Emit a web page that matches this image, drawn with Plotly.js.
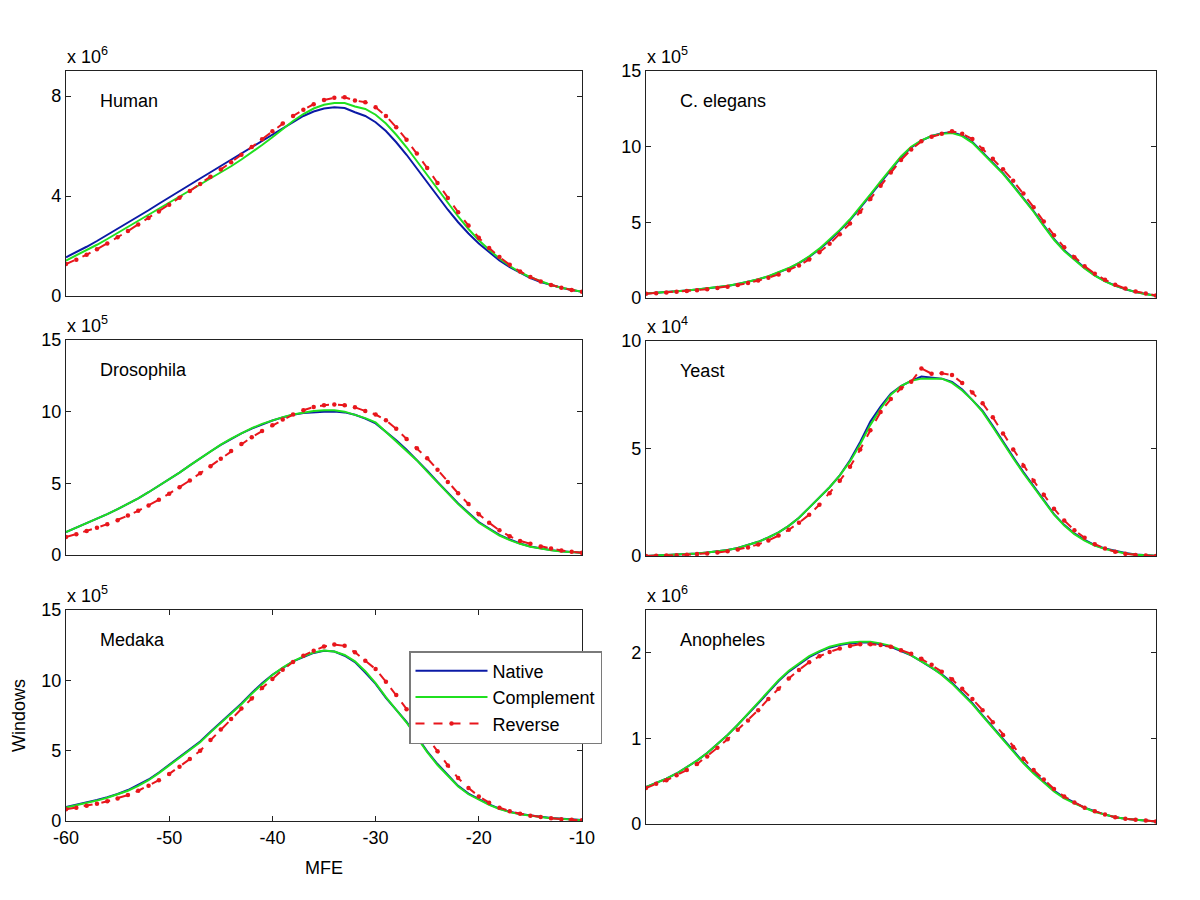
<!DOCTYPE html>
<html>
<head>
<meta charset="utf-8">
<script src="https://cdn.plot.ly/plotly-3.0.1.min.js"></script>
<style>html,body{margin:0;padding:0;background:#fff;}#chart{width:1200px;height:900px;}</style>
</head>
<body>
<div id="chart"></div>
<script>
// MFE values (x axis), shared by all panels
const mfe = [-60,-59,-58,-57,-56,-55,-54,-53,-52,-51,-50,-49,-48,-47,-46,-45,-44,-43,-42,-41,-40,-39,-38,-37,-36,-35,-34,-33,-32,-31,-30,-29,-28,-27,-26,-25,-24,-23,-22,-21,-20,-19,-18,-17,-16,-15,-14,-13,-12,-11,-10];

const seriesNames = ["Native", "Complement", "Reverse"];

// Human (x 10^6)
const humanNative = [1.55,1.75,1.97,2.2,2.44,2.68,2.93,3.18,3.43,3.69,3.95,4.2,4.45,4.7,4.95,5.2,5.45,5.7,5.95,6.2,6.45,6.72,6.97,7.2,7.38,7.5,7.55,7.52,7.35,7.2,6.95,6.6,6.15,5.65,5.1,4.55,4.0,3.45,2.95,2.5,2.1,1.75,1.42,1.15,0.92,0.72,0.56,0.43,0.33,0.24,0.17];
const humanComplement = [1.42,1.62,1.83,2.05,2.28,2.52,2.76,3.0,3.24,3.48,3.72,3.96,4.2,4.44,4.68,4.93,5.19,5.46,5.74,6.04,6.35,6.68,7.0,7.28,7.5,7.65,7.72,7.72,7.58,7.48,7.25,6.9,6.45,5.95,5.4,4.85,4.3,3.72,3.18,2.68,2.23,1.85,1.5,1.2,0.95,0.75,0.58,0.44,0.33,0.24,0.17];
const humanReverse = [1.28,1.45,1.65,1.87,2.1,2.35,2.6,2.86,3.12,3.38,3.65,3.93,4.2,4.48,4.77,5.06,5.35,5.65,5.96,6.27,6.59,6.9,7.2,7.45,7.67,7.84,7.93,7.95,7.82,7.75,7.55,7.2,6.75,6.25,5.7,5.12,4.52,3.92,3.35,2.82,2.33,1.92,1.56,1.25,0.98,0.76,0.58,0.44,0.33,0.24,0.17];

// C. elegans (x 10^5)
const celegansNative = [0.3,0.34,0.39,0.44,0.5,0.56,0.63,0.71,0.8,0.92,1.06,1.23,1.43,1.67,1.96,2.3,2.72,3.22,3.8,4.45,5.15,5.95,6.8,7.65,8.5,9.3,9.95,10.4,10.7,10.88,10.95,10.75,10.3,9.6,8.95,8.25,7.45,6.6,5.75,4.8,3.9,3.15,2.55,2.0,1.5,1.12,0.82,0.58,0.4,0.26,0.15];
const celegansComplement = [0.3,0.34,0.39,0.44,0.5,0.56,0.63,0.71,0.81,0.93,1.07,1.24,1.44,1.69,1.98,2.32,2.75,3.26,3.85,4.5,5.2,6.0,6.85,7.7,8.55,9.35,10.0,10.42,10.7,10.85,10.9,10.7,10.25,9.55,8.9,8.2,7.4,6.55,5.7,4.75,3.85,3.1,2.5,1.95,1.47,1.1,0.8,0.57,0.39,0.25,0.15];
const celegansReverse = [0.28,0.32,0.36,0.41,0.46,0.52,0.58,0.66,0.75,0.86,0.99,1.15,1.34,1.56,1.83,2.15,2.55,3.02,3.58,4.22,4.92,5.7,6.55,7.42,8.3,9.12,9.82,10.35,10.65,10.85,11.02,10.85,10.5,9.85,9.2,8.5,7.75,6.9,6.0,5.05,4.15,3.35,2.7,2.1,1.6,1.2,0.88,0.62,0.43,0.29,0.17];

// Drosophila (x 10^5)
const drosNative = [1.6,1.9,2.2,2.52,2.85,3.2,3.55,3.95,4.38,4.82,5.28,5.75,6.25,6.75,7.22,7.68,8.1,8.48,8.82,9.12,9.38,9.6,9.78,9.9,9.96,10.0,10.02,9.95,9.78,9.52,9.18,8.6,8.0,7.35,6.65,5.88,5.1,4.35,3.6,2.95,2.3,1.85,1.4,1.08,0.8,0.6,0.45,0.34,0.26,0.2,0.15];
const drosComplement = [1.6,1.9,2.2,2.52,2.85,3.2,3.55,3.95,4.38,4.82,5.28,5.75,6.25,6.75,7.25,7.7,8.12,8.5,8.85,9.15,9.4,9.62,9.8,9.94,10.04,10.1,10.1,10.0,9.8,9.55,9.25,8.6,7.95,7.3,6.6,5.82,5.05,4.3,3.55,2.9,2.25,1.8,1.36,1.04,0.78,0.58,0.44,0.33,0.25,0.19,0.15];
const drosReverse = [1.25,1.45,1.67,1.9,2.15,2.43,2.75,3.08,3.45,3.85,4.28,4.72,5.2,5.7,6.2,6.72,7.25,7.75,8.22,8.65,9.05,9.45,9.8,10.1,10.32,10.45,10.5,10.45,10.3,10.05,9.8,9.4,8.8,8.1,7.45,6.75,5.95,5.1,4.3,3.55,2.85,2.25,1.72,1.3,0.98,0.78,0.6,0.45,0.32,0.22,0.15];

// Yeast (x 10^4)
const yeastNative = [0.0,0.02,0.04,0.06,0.09,0.12,0.16,0.21,0.28,0.37,0.5,0.66,0.86,1.1,1.4,1.78,2.25,2.72,3.2,3.75,4.45,5.3,6.25,6.95,7.55,7.9,8.15,8.35,8.3,8.25,8.1,7.75,7.25,6.75,6.05,5.3,4.6,3.9,3.25,2.6,1.95,1.45,1.05,0.75,0.5,0.35,0.23,0.14,0.07,0.03,0.01];
const yeastComplement = [0.0,0.02,0.04,0.06,0.09,0.12,0.16,0.21,0.28,0.37,0.5,0.66,0.86,1.1,1.4,1.78,2.25,2.72,3.2,3.75,4.4,5.2,6.1,6.85,7.5,7.9,8.15,8.25,8.25,8.25,8.05,7.7,7.25,6.7,6.0,5.25,4.55,3.85,3.2,2.55,1.92,1.42,1.02,0.72,0.48,0.33,0.21,0.12,0.06,0.03,0.01];
const yeastReverse = [0.0,0.01,0.02,0.04,0.06,0.09,0.12,0.16,0.22,0.3,0.4,0.54,0.72,0.95,1.22,1.55,1.92,2.38,2.92,3.5,4.15,4.95,5.85,6.7,7.3,7.8,8.1,8.72,8.48,8.5,8.42,8.05,7.6,7.1,6.45,5.7,4.95,4.2,3.5,2.85,2.2,1.65,1.2,0.85,0.55,0.35,0.2,0.1,0.05,0.02,0.0];

// Medaka (x 10^5)
const medakaNative = [1.0,1.15,1.32,1.5,1.7,1.92,2.2,2.55,2.95,3.45,4.0,4.5,5.05,5.65,6.35,7.0,7.65,8.35,9.1,9.8,10.4,10.9,11.35,11.65,11.95,12.1,12.05,11.75,11.3,10.55,9.75,8.75,7.9,7.05,6.0,4.95,4.05,3.25,2.5,1.95,1.54,1.18,0.88,0.66,0.5,0.38,0.3,0.22,0.16,0.1,0.07];
const medakaComplement = [0.95,1.1,1.27,1.45,1.65,1.88,2.15,2.5,2.9,3.4,3.95,4.45,5.0,5.6,6.3,6.95,7.6,8.3,9.05,9.75,10.38,10.9,11.35,11.7,11.98,12.12,12.05,11.8,11.35,10.65,9.8,8.8,7.9,7.0,5.95,4.9,3.98,3.18,2.45,1.9,1.5,1.14,0.85,0.63,0.48,0.36,0.28,0.2,0.14,0.09,0.06];
const medakaReverse = [0.83,0.95,1.08,1.23,1.4,1.6,1.85,2.15,2.5,2.9,3.35,3.85,4.4,5.0,5.75,6.5,7.25,8.0,8.7,9.45,10.1,10.75,11.3,11.75,12.1,12.4,12.55,12.45,12.0,11.4,10.8,9.9,8.95,7.95,7.0,5.95,4.95,3.95,3.05,2.35,1.75,1.3,0.95,0.7,0.52,0.38,0.28,0.2,0.13,0.08,0.05];

// Anopheles (x 10^6)
const anophelesNative = [0.43,0.48,0.53,0.59,0.66,0.74,0.83,0.93,1.04,1.16,1.28,1.41,1.54,1.67,1.78,1.87,1.95,2.01,2.06,2.09,2.11,2.12,2.12,2.1,2.07,2.02,1.97,1.9,1.83,1.75,1.65,1.53,1.41,1.27,1.13,0.99,0.85,0.72,0.6,0.49,0.39,0.31,0.25,0.19,0.15,0.11,0.08,0.06,0.05,0.04,0.03];
const anophelesComplement = [0.43,0.48,0.53,0.59,0.66,0.74,0.83,0.93,1.04,1.16,1.29,1.42,1.55,1.68,1.79,1.88,1.96,2.02,2.07,2.1,2.12,2.13,2.13,2.11,2.08,2.03,1.97,1.9,1.83,1.74,1.64,1.52,1.4,1.26,1.12,0.98,0.84,0.71,0.59,0.48,0.38,0.3,0.24,0.19,0.14,0.11,0.08,0.06,0.05,0.04,0.03];
const anophelesReverse = [0.42,0.47,0.51,0.57,0.63,0.7,0.79,0.89,0.99,1.1,1.21,1.33,1.46,1.58,1.7,1.8,1.89,1.96,2.01,2.05,2.08,2.1,2.1,2.09,2.07,2.03,1.99,1.93,1.86,1.78,1.69,1.58,1.46,1.33,1.19,1.04,0.9,0.76,0.63,0.52,0.41,0.32,0.25,0.19,0.15,0.11,0.08,0.06,0.05,0.04,0.03];

// Panel labels, exponent labels and tick labels
const panelNames = ["Human", "C. elegans", "Drosophila", "Yeast", "Medaka", "Anopheles"];
const panelExponents = ["6", "5", "5", "4", "5", "6"];
const panelYTicks = [[0,4,8],[0,5,10,15],[0,5,10,15],[0,5,10],[0,5,10,15],[0,1,2]];
const panelYMax = [9, 15, 15, 10, 15, 2.5];
const xTickVals = [-60,-50,-40,-30,-20,-10];
const xTickText = ["-60","-50","-40","-30","-20","-10"];
const xTitle = "MFE";
const yTitle = "Windows";

const panelData = [
  [humanNative, humanComplement, humanReverse],
  [celegansNative, celegansComplement, celegansReverse],
  [drosNative, drosComplement, drosReverse],
  [yeastNative, yeastComplement, yeastReverse],
  [medakaNative, medakaComplement, medakaReverse],
  [anophelesNative, anophelesComplement, anophelesReverse]
];

const colors = ["#0b1aa6", "#1fe01f", "#e8161c"];
const FONT = "Liberation Sans, Arial, Helvetica, sans-serif";

// pixel layout of each panel [left, right, top, bottom]
const W = 1200, H = 900;
const boxes = [
  [66, 582, 71, 296],
  [646, 1156, 71, 298],
  [66, 582, 340, 555],
  [646, 1156, 341, 556],
  [66, 582, 610, 821],
  [646, 1156, 610, 824]
];

const traces = [];
panelData.forEach((set, p) => {
  const ax = p === 0 ? "" : String(p + 1);
  set.forEach((vals, s) => {
    const t = {
      x: mfe, y: vals, xaxis: "x" + ax, yaxis: "y" + ax,
      name: seriesNames[s], legendgroup: seriesNames[s],
      showlegend: p === 0,
      type: "scatter",
      mode: s === 2 ? "lines+markers" : "lines",
      line: {color: colors[s], width: 2, dash: s === 2 ? "dash" : "solid", shape: "linear"},
      hoverinfo: "x+y+name"
    };
    if (s === 2) t.marker = {color: colors[s], size: 4.5, symbol: "circle"};
    traces.push(t);
  });
});

const layout = {
  width: W, height: H,
  margin: {l: 0, r: 0, t: 0, b: 0, autoexpand: false},
  paper_bgcolor: "#ffffff", plot_bgcolor: "#ffffff",
  font: {family: FONT, size: 18, color: "#000"},
  showlegend: true,
  legend: {
    x: 409 / W, y: 1 - 651 / H, xanchor: "left", yanchor: "top",
    bgcolor: "#ffffff", bordercolor: "#7a7a7a", borderwidth: 1.5,
    font: {family: FONT, size: 18, color: "#000"},
    itemwidth: 72, tracegroupgap: 0
  },
  annotations: [],
  shapes: []
};

boxes.forEach((b, p) => {
  const ax = p === 0 ? "" : String(p + 1);
  const isMedaka = p === 4;
  const xa = {
    domain: [b[0] / W, b[1] / W],
    anchor: "y" + ax,
    range: [-60, -10],
    showgrid: false, zeroline: false,
    showline: true, linecolor: "#222", linewidth: 1.2,
    mirror: isMedaka ? "ticks" : true,
    ticks: isMedaka ? "inside" : "",
    ticklen: 5, tickcolor: "#222",
    showticklabels: isMedaka,
    tickfont: {family: FONT, size: 18, color: "#000"},
    automargin: false, fixedrange: true
  };
  if (isMedaka) {
    xa.tickvals = xTickVals;
    xa.ticktext = xTickText;
    xa.title = {text: xTitle, font: {family: FONT, size: 18, color: "#000"}, standoff: 14};
  }
  layout["xaxis" + ax] = xa;
  const ya = {
    domain: [1 - b[3] / H, 1 - b[2] / H],
    anchor: "x" + ax,
    range: [0, panelYMax[p]],
    showgrid: false, zeroline: false,
    showline: true, linecolor: "#222", linewidth: 1.2,
    mirror: "ticks", ticks: "inside", ticklen: 5, tickcolor: "#222",
    tickvals: panelYTicks[p],
    ticktext: panelYTicks[p].map(String),
    tickfont: {family: FONT, size: 18, color: "#000"},
    automargin: false, fixedrange: true
  };
  if (isMedaka) {
    ya.title = {text: yTitle, font: {family: FONT, size: 18, color: "#000"}, standoff: 10};
  }
  layout["yaxis" + ax] = ya;
  // exponent label "x 10^n" above the axes
  layout.annotations.push({
    xref: "paper", yref: "paper",
    x: (b[0] - 1) / W, y: 1 - (b[2] - 16) / H,
    xanchor: "left", yanchor: "middle", showarrow: false,
    text: "x 10<sup>" + panelExponents[p] + "</sup>",
    font: {family: FONT, size: 18, color: "#000"}
  });
  // species label inside the axes
  layout.annotations.push({
    xref: "paper", yref: "paper",
    x: (b[0] + 32) / W, y: 1 - (b[2] + 30) / H,
    xanchor: "left", yanchor: "middle", showarrow: false,
    text: panelNames[p],
    font: {family: FONT, size: 18, color: "#000"}
  });
});

Plotly.newPlot("chart", traces, layout, {displayModeBar: false, staticPlot: true});
</script>
</body>
</html>
